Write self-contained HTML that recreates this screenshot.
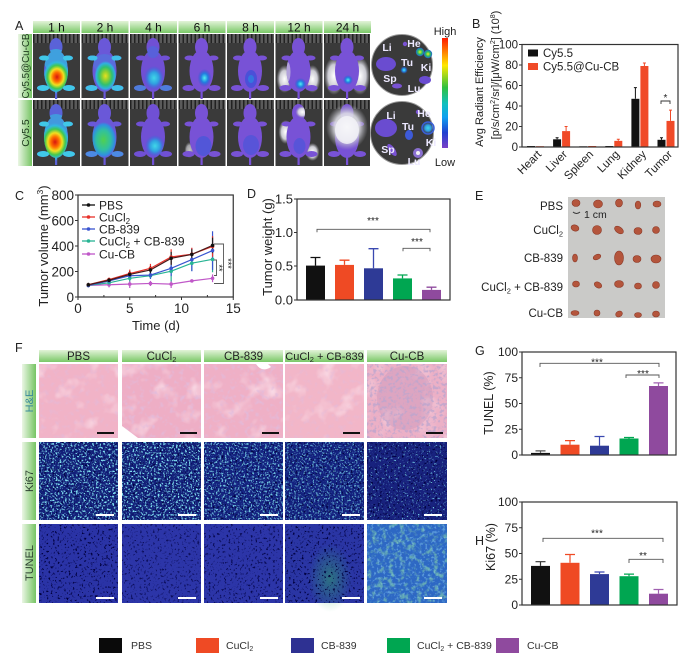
<!DOCTYPE html>
<html><head><meta charset="utf-8">
<style>
html,body{margin:0;padding:0;background:#fff;}
svg{display:block;font-family:"Liberation Sans",Arial,sans-serif;}
</style></head><body>
<svg width="700" height="669" viewBox="0 0 700 669" xmlns="http://www.w3.org/2000/svg">
<defs>
 <linearGradient id="hdr" x1="0" y1="0" x2="0" y2="1"><stop offset="0" stop-color="#e2f3d8"/><stop offset="1" stop-color="#7ac867"/></linearGradient>
 <linearGradient id="side" x1="0" y1="0" x2="1" y2="0"><stop offset="0" stop-color="#eaf6e4"/><stop offset="1" stop-color="#76c463"/></linearGradient>
 <linearGradient id="cbar" x1="0" y1="0" x2="0" y2="1">
  <stop offset="0" stop-color="#ff1a00"/><stop offset="0.1" stop-color="#ff6a00"/><stop offset="0.25" stop-color="#ffe800"/>
  <stop offset="0.45" stop-color="#30c040"/><stop offset="0.6" stop-color="#10c0c0"/><stop offset="0.72" stop-color="#10a0f0"/>
  <stop offset="0.86" stop-color="#2040d0"/><stop offset="1" stop-color="#7a40c8"/></linearGradient>
 <radialGradient id="hot"><stop offset="0" stop-color="#d81510"/><stop offset="0.28" stop-color="#ff7000"/><stop offset="0.48" stop-color="#f0e020"/><stop offset="0.68" stop-color="#40c850"/><stop offset="0.86" stop-color="#30b8e0"/><stop offset="1" stop-color="#30b8e0" stop-opacity="0"/></radialGradient>
 <radialGradient id="warm"><stop offset="0" stop-color="#e8e020"/><stop offset="0.3" stop-color="#90d030"/><stop offset="0.6" stop-color="#30c070"/><stop offset="0.85" stop-color="#30b0e0"/><stop offset="1" stop-color="#30b0e0" stop-opacity="0"/></radialGradient>
 <radialGradient id="grn"><stop offset="0" stop-color="#50d050"/><stop offset="0.55" stop-color="#30c0a0"/><stop offset="0.85" stop-color="#3090e0"/><stop offset="1" stop-color="#3090e0" stop-opacity="0"/></radialGradient>
 <radialGradient id="cool"><stop offset="0" stop-color="#40d8e8"/><stop offset="0.5" stop-color="#30a0e0"/><stop offset="1" stop-color="#3060e0" stop-opacity="0"/></radialGradient>
 <radialGradient id="spot"><stop offset="0" stop-color="#50f0f0"/><stop offset="0.5" stop-color="#2080e0"/><stop offset="1" stop-color="#3050d0" stop-opacity="0"/></radialGradient>
 <radialGradient id="wht"><stop offset="0" stop-color="#ffffff"/><stop offset="0.6" stop-color="#dcdce4" stop-opacity="0.9"/><stop offset="1" stop-color="#b0b0b8" stop-opacity="0"/></radialGradient>
 <radialGradient id="kig"><stop offset="0" stop-color="#f0f020"/><stop offset="0.5" stop-color="#30c060"/><stop offset="1" stop-color="#2060d0"/></radialGradient>
 <radialGradient id="gstreak"><stop offset="0" stop-color="#30b060" stop-opacity="0.5"/><stop offset="1" stop-color="#30b060" stop-opacity="0"/></radialGradient>
 <pattern id="comb" width="4" height="10" patternUnits="userSpaceOnUse"><rect width="4" height="10" fill="#5a5a5a"/><rect width="1.5" height="10" fill="#222"/></pattern>
 <path id="ms" d="M16.5 13a6.5 9 0 1 0 13 0a6.5 9 0 1 0 -13 0Z M11 37a12 21 0 1 0 24 0a12 21 0 1 0 -24 0Z M6 24a5 2.5 0 1 0 10 0a5 2.5 0 1 0 -10 0Z M30 24a5 2.5 0 1 0 10 0a5 2.5 0 1 0 -10 0Z M4 54a6 3 0 1 0 12 0a6 3 0 1 0 -12 0Z M30 54a6 3 0 1 0 12 0a6 3 0 1 0 -12 0Z M22 56v9h2.2v-9Z"/>
 <clipPath id="mc"><use href="#ms"/></clipPath>
 <filter id="fCy" x="0" y="0" width="1" height="1"><feTurbulence type="fractalNoise" baseFrequency="0.55" numOctaves="2" seed="3"/><feColorMatrix type="matrix" values="0 0 0 0 0.22 0 0 0 0 0.76 0 0 0 0 0.88 6 0 0 0 -3.2"/></filter>
 <filter id="fCyS" x="0" y="0" width="1" height="1"><feTurbulence type="fractalNoise" baseFrequency="0.55" numOctaves="2" seed="3"/><feColorMatrix type="matrix" values="0 0 0 0 0.2 0 0 0 0 0.7 0 0 0 0 0.85 7 0 0 0 -4.5"/></filter>
 <filter id="fDk" x="0" y="0" width="1" height="1"><feTurbulence type="fractalNoise" baseFrequency="0.45" numOctaves="2" seed="9"/><feColorMatrix type="matrix" values="0 0 0 0 0 0 0 0 0 0 0 0 0 0 0.05 -7 0 0 0 2.85"/></filter>
 <filter id="fDkS" x="0" y="0" width="1" height="1"><feTurbulence type="fractalNoise" baseFrequency="0.45" numOctaves="2" seed="5"/><feColorMatrix type="matrix" values="0 0 0 0 0.05 0 0 0 0 0.12 0 0 0 0 0.45 -7 0 0 0 2.5"/></filter>
 <filter id="fPk" x="0" y="0" width="1" height="1"><feTurbulence type="fractalNoise" baseFrequency="0.05" numOctaves="3" seed="2"/><feColorMatrix type="matrix" values="0 0 0 0 0.98 0 0 0 0 0.82 0 0 0 0 0.88 2 0 0 0 -1.05"/></filter>
 <filter id="fPu" x="0" y="0" width="1" height="1"><feTurbulence type="fractalNoise" baseFrequency="0.2" numOctaves="2" seed="7"/><feColorMatrix type="matrix" values="0 0 0 0 0.75 0 0 0 0 0.5 0 0 0 0 0.72 3 0 0 0 -1.6"/></filter>
 <filter id="fPuS" x="0" y="0" width="1" height="1"><feTurbulence type="fractalNoise" baseFrequency="0.3" numOctaves="2" seed="11"/><feColorMatrix type="matrix" values="0 0 0 0 0.5 0 0 0 0 0.38 0 0 0 0 0.62 5 0 0 0 -2.5"/></filter>
 <filter id="fGr" x="0" y="0" width="1" height="1"><feTurbulence type="fractalNoise" baseFrequency="0.18" numOctaves="3" seed="4"/><feColorMatrix type="matrix" values="0 0 0 0 0.25 0 0 0 0 0.68 0 0 0 0 0.42 4 0 0 0 -2.0"/></filter>
 <filter id="fLc" x="0" y="0" width="1" height="1"><feTurbulence type="fractalNoise" baseFrequency="0.35" numOctaves="2" seed="8"/><feColorMatrix type="matrix" values="0 0 0 0 0.3 0 0 0 0 0.7 0 0 0 0 0.95 5 0 0 0 -2.7"/></filter>
</defs>
<rect width="700" height="669" fill="#fff"/>

<!-- Panel letters -->
<g font-size="12.5" fill="#222">
<text x="15" y="30">A</text><text x="472" y="28">B</text><text x="15" y="200">C</text><text x="247" y="198">D</text>
<text x="475" y="200">E</text><text x="15" y="352">F</text><text x="475" y="355">G</text><text x="475" y="545">H</text>
</g>

<!-- ===== Panel A ===== -->
<g>
<rect x="33" y="21" width="47" height="12" fill="url(#hdr)"/><rect x="81.5" y="21" width="47" height="12" fill="url(#hdr)"/>
<rect x="130" y="21" width="47" height="12" fill="url(#hdr)"/><rect x="178.5" y="21" width="47" height="12" fill="url(#hdr)"/>
<rect x="227" y="21" width="47" height="12" fill="url(#hdr)"/><rect x="275.5" y="21" width="47" height="12" fill="url(#hdr)"/>
<rect x="324" y="21" width="47" height="12" fill="url(#hdr)"/>
</g>
<g font-size="12" text-anchor="middle" fill="#111">
<text x="56.5" y="31.5">1 h</text><text x="105" y="31.5">2 h</text><text x="153.5" y="31.5">4 h</text><text x="202" y="31.5">6 h</text>
<text x="250.5" y="31.5">8 h</text><text x="299" y="31.5">12 h</text><text x="347.5" y="31.5">24 h</text>
</g>
<rect x="18" y="34" width="14" height="64" fill="url(#side)"/>
<rect x="18" y="100" width="14" height="66" fill="url(#side)"/>
<text transform="translate(29,66) rotate(-90)" text-anchor="middle" font-size="9.8" fill="#1d3a1d">Cy5.5@Cu-CB</text>
<text transform="translate(29,133) rotate(-90)" text-anchor="middle" font-size="10.5" fill="#1d3a1d">Cy5.5</text>

<!-- row1 -->
<g transform="translate(33,34)"><rect width="47" height="64" fill="#3a3a3a"/><rect width="47" height="9" fill="url(#comb)"/>
<use href="#ms" fill="#5a62d8"/><g clip-path="url(#mc)"><ellipse cx="23" cy="27" rx="12" ry="12" fill="#38b0e0" opacity="0.8"/><ellipse cx="24" cy="43" rx="14" ry="17" fill="url(#hot)"/>
<ellipse cx="11" cy="24" rx="5" ry="3" fill="#40c8e8"/><ellipse cx="35" cy="24" rx="5" ry="3" fill="#40c8e8"/><ellipse cx="10" cy="54" rx="6" ry="3" fill="#40c8e8"/><ellipse cx="36" cy="54" rx="6" ry="3" fill="#40c8e8"/></g></g>
<g transform="translate(81.5,34)"><rect width="47" height="64" fill="#3a3a3a"/><rect width="47" height="9" fill="url(#comb)"/>
<use href="#ms" fill="#6a58d8"/><g clip-path="url(#mc)"><ellipse cx="23" cy="30" rx="11" ry="10" fill="#4a80e0" opacity="0.5"/><ellipse cx="24" cy="42" rx="11" ry="15" fill="url(#warm)"/>
<ellipse cx="11" cy="24" rx="5" ry="3" fill="#40c0e8"/><ellipse cx="35" cy="24" rx="5" ry="3" fill="#40c0e8"/><ellipse cx="10" cy="54" rx="6" ry="3" fill="#40c0e8"/><ellipse cx="36" cy="54" rx="6" ry="3" fill="#40c0e8"/></g></g>
<g transform="translate(130,34)"><rect width="47" height="64" fill="#3a3a3a"/><rect width="47" height="9" fill="url(#comb)"/>
<use href="#ms" fill="#7050d4"/><g clip-path="url(#mc)"><ellipse cx="23" cy="18" rx="6" ry="6" fill="#4070e0" opacity="0.5"/><ellipse cx="24" cy="44" rx="10" ry="12" fill="url(#cool)"/>
<ellipse cx="10" cy="54" rx="6" ry="3" fill="#4090e0" opacity="0.7"/><ellipse cx="36" cy="54" rx="6" ry="3" fill="#4090e0" opacity="0.7"/></g></g>
<g transform="translate(178.5,34)"><rect width="47" height="64" fill="#3a3a3a"/><rect width="47" height="9" fill="url(#comb)"/>
<use href="#ms" fill="#7852d6"/><g clip-path="url(#mc)"><ellipse cx="26" cy="44" rx="7" ry="9" fill="url(#spot)"/></g></g>
<g transform="translate(227,34)"><rect width="47" height="64" fill="#3a3a3a"/><rect width="47" height="9" fill="url(#comb)"/>
<use href="#ms" fill="#7852d6"/><g clip-path="url(#mc)"><ellipse cx="24" cy="45" rx="6" ry="9" fill="#4050d8" opacity="0.8"/><ellipse cx="24" cy="45" rx="3" ry="4" fill="#3080e0" opacity="0.8"/></g></g>
<g transform="translate(275.5,34)"><rect width="47" height="64" fill="#3a3a3a"/><rect width="47" height="9" fill="url(#comb)"/>
<ellipse cx="9" cy="45" rx="8" ry="14" fill="url(#wht)"/><ellipse cx="37" cy="45" rx="8" ry="14" fill="url(#wht)"/>
<use href="#ms" fill="#7852d6"/><g clip-path="url(#mc)"><ellipse cx="25" cy="50" rx="6" ry="6" fill="url(#spot)"/><ellipse cx="12" cy="38" rx="3" ry="10" fill="#d8d8e0" opacity="0.6"/></g></g>
<g transform="translate(324,34)"><rect width="46" height="64" fill="#3a3a3a"/><rect width="46" height="9" fill="url(#comb)"/>
<ellipse cx="10" cy="42" rx="10" ry="19" fill="url(#wht)"/><ellipse cx="36" cy="42" rx="10" ry="19" fill="url(#wht)"/>
<use href="#ms" fill="#7852d6"/><g clip-path="url(#mc)"><ellipse cx="24" cy="46" rx="5" ry="5" fill="url(#spot)"/></g></g>
<!-- row2 -->
<g transform="translate(33,100)"><rect width="47" height="66" fill="#3a3a3a"/><rect width="47" height="9" fill="url(#comb)"/>
<use href="#ms" fill="#5a62d8"/><g clip-path="url(#mc)"><ellipse cx="23" cy="26" rx="12" ry="12" fill="#38b0e0" opacity="0.7"/><ellipse cx="22" cy="42" rx="15" ry="19" fill="url(#hot)"/>
<ellipse cx="11" cy="24" rx="5" ry="3" fill="#40c8e8"/><ellipse cx="35" cy="24" rx="5" ry="3" fill="#40c8e8"/><ellipse cx="10" cy="54" rx="6" ry="3" fill="#40c8e8"/><ellipse cx="36" cy="54" rx="6" ry="3" fill="#40c8e8"/></g></g>
<g transform="translate(81.5,100)"><rect width="47" height="66" fill="#3a3a3a"/><rect width="47" height="9" fill="url(#comb)"/>
<use href="#ms" fill="#6a58d8"/><g clip-path="url(#mc)"><ellipse cx="22" cy="40" rx="13" ry="18" fill="url(#grn)"/>
<ellipse cx="10" cy="54" rx="6" ry="3" fill="#40a0e8" opacity="0.7"/><ellipse cx="36" cy="54" rx="6" ry="3" fill="#40a0e8" opacity="0.7"/></g></g>
<g transform="translate(130,100)"><rect width="47" height="66" fill="#3a3a3a"/><rect width="47" height="9" fill="url(#comb)"/>
<use href="#ms" fill="#7050d4"/><g clip-path="url(#mc)"><ellipse cx="25" cy="46" rx="10" ry="11" fill="url(#cool)"/></g></g>
<g transform="translate(178.5,100)"><rect width="47" height="66" fill="#3a3a3a"/><rect width="47" height="9" fill="url(#comb)"/>
<ellipse cx="11" cy="50" rx="5" ry="8" fill="url(#wht)" opacity="0.7"/>
<use href="#ms" fill="#7852d6"/><g clip-path="url(#mc)"><ellipse cx="25" cy="46" rx="8" ry="10" fill="#4858d8" opacity="0.8"/></g></g>
<g transform="translate(227,100)"><rect width="47" height="66" fill="#3a3a3a"/><rect width="47" height="9" fill="url(#comb)"/>
<use href="#ms" fill="#7852d6"/><g clip-path="url(#mc)"><ellipse cx="24" cy="45" rx="8" ry="10" fill="#4a55d8" opacity="0.7"/></g></g>
<g transform="translate(275.5,100)"><rect width="47" height="66" fill="#3a3a3a"/><rect width="47" height="9" fill="url(#comb)"/>
<ellipse cx="10" cy="32" rx="7" ry="12" fill="url(#wht)"/><ellipse cx="37" cy="52" rx="7" ry="9" fill="url(#wht)"/>
<use href="#ms" fill="#7852d6"/><g clip-path="url(#mc)"><ellipse cx="27" cy="12" rx="7" ry="6" fill="url(#wht)"/><ellipse cx="24" cy="46" rx="6" ry="8" fill="#4a55d8" opacity="0.7"/></g></g>
<g transform="translate(324,100)"><rect width="46" height="66" fill="#3a3a3a"/><rect width="46" height="9" fill="url(#comb)"/>
<use href="#ms" fill="#7852d6"/><ellipse cx="23" cy="27" rx="21" ry="23" fill="url(#wht)"/><ellipse cx="23" cy="30" rx="12" ry="14" fill="#f4f4f8" opacity="0.8"/></g>

<!-- ex vivo circles -->
<circle cx="402" cy="65" r="30.5" fill="#3a3a3a" stroke="#9a9a9a" stroke-width="1"/>
<ellipse cx="386" cy="64" rx="10" ry="7" fill="#6a4cd0"/>
<circle cx="405" cy="44" r="2.2" fill="#7a52d4"/>
<circle cx="420" cy="52" r="4.2" fill="url(#kig)"/><circle cx="428" cy="54" r="4.2" fill="url(#kig)"/>
<circle cx="404" cy="70" r="3.8" fill="url(#spot)"/>
<ellipse cx="397" cy="86" rx="5" ry="2.5" fill="#7a52d4"/>
<ellipse cx="425" cy="80" rx="6" ry="4" fill="#6a4cd0"/>
<circle cx="402" cy="133" r="31.5" fill="#3a3a3a" stroke="#9a9a9a" stroke-width="1"/>
<ellipse cx="386" cy="128" rx="11" ry="9" fill="#6a4cd0"/>
<circle cx="418" cy="112" r="2.2" fill="#7a52d4"/>
<circle cx="428" cy="128" r="6" fill="url(#cool)" stroke="#3a60d8" stroke-width="1.5"/>
<ellipse cx="409" cy="135" rx="4" ry="5" fill="#3d5ad8"/>
<ellipse cx="392" cy="150" rx="3" ry="7" fill="#7a52d4" transform="rotate(-35 392 150)"/>
<circle cx="418" cy="153" r="5" fill="#8a70d0"/><circle cx="418" cy="153" r="2" fill="#f0f0f0"/>
<g font-size="10.5" font-weight="bold" fill="#ece8ff" text-anchor="middle">
<text x="387" y="51">Li</text><text x="414" y="47">He</text><text x="407" y="66">Tu</text><text x="426" y="71">Ki</text><text x="390" y="82">Sp</text><text x="414" y="92">Lu</text>
<text x="391" y="119">Li</text><text x="424" y="117">He</text><text x="408" y="130">Tu</text><text x="431" y="146">Ki</text><text x="388" y="153">Sp</text><text x="414" y="165">Lu</text>
</g>
<rect x="442" y="38" width="6" height="110" fill="url(#cbar)"/>
<text x="445" y="35" text-anchor="middle" font-size="11" fill="#222">High</text>
<text x="445" y="166" text-anchor="middle" font-size="11" fill="#222">Low</text>

<!-- ===== Panel B ===== -->
<g fill="#222">
<text transform="translate(483,92) rotate(-90)" text-anchor="middle" font-size="11">Avg Radiant Efficiency</text>
<text transform="translate(499,75) rotate(-90)" text-anchor="middle" font-size="11">[p/s/cm<tspan font-size="7" dy="-4">2</tspan><tspan dy="4">/sr]/[μW/cm</tspan><tspan font-size="7" dy="-4">2</tspan><tspan dy="4">] (10</tspan><tspan font-size="7" dy="-4">8</tspan><tspan dy="4">)</tspan></text>
</g>
<g font-size="11.5" fill="#222" text-anchor="end">
<text x="518" y="151">0</text><text x="518" y="130.5">20</text><text x="518" y="110">40</text><text x="518" y="89.5">60</text><text x="518" y="69">80</text><text x="518" y="48.5">100</text>
</g>
<path d="M519 147h3M519 126.5h3M519 106h3M519 85.5h3M519 65h3M519 44.5h3" stroke="#333" stroke-width="1"/>
<g fill="#111">
<rect x="527" y="146" width="8" height="1"/><rect x="553.1" y="139.3" width="8" height="7.7"/><rect x="579.2" y="146.3" width="8" height="0.7"/>
<rect x="605.3" y="146" width="8" height="1"/><rect x="631.4" y="98.8" width="8" height="48.2"/><rect x="657.5" y="139.8" width="8" height="7.2"/>
</g>
<g fill="#f04a28">
<rect x="536" y="146.2" width="8" height="0.8"/><rect x="562.1" y="131.1" width="8" height="15.9"/><rect x="588.2" y="146" width="8" height="1"/>
<rect x="614.3" y="140.85" width="8" height="6.15"/><rect x="640.4" y="66" width="8" height="81"/><rect x="666.5" y="120.9" width="8" height="26.1"/>
</g>
<path d="M557.1 139.3V137.8M555.6 137.8h3M635.4 98.8V87.6M633.9 87.6h3M661.5 139.8V137.8M660 137.8h3" stroke="#111" stroke-width="1"/>
<path d="M566.1 131.1V126.5M564.6 126.5h3M618.3 140.85V139.3M616.8 139.3h3M644.4 66V63M642.9 63h3M670.5 120.9V110.1M669 110.1h3" stroke="#f04a28" stroke-width="1"/>
<rect x="522" y="44.5" width="156" height="102.5" fill="none" stroke="#333" stroke-width="1.2"/>
<rect x="528" y="49.5" width="10" height="7" fill="#111"/>
<rect x="528" y="63" width="10" height="7" fill="#f04a28"/>
<text x="543" y="57" font-size="11.5" fill="#222">Cy5.5</text>
<text x="543" y="70.5" font-size="11.5" fill="#222">Cy5.5@Cu-CB</text>
<path d="M661 104v-3h9v3" fill="none" stroke="#333" stroke-width="0.9"/>
<text x="665.5" y="101" text-anchor="middle" font-size="10" fill="#222">*</text>
<g font-size="11.5" fill="#222" text-anchor="end">
<text transform="translate(542,155) rotate(-45)">Heart</text>
<text transform="translate(568,155) rotate(-45)">Liver</text>
<text transform="translate(594,155) rotate(-45)">Spleen</text>
<text transform="translate(620,155) rotate(-45)">Lung</text>
<text transform="translate(647,155) rotate(-45)">Kidney</text>
<text transform="translate(673,155) rotate(-45)">Tumor</text>
</g>

<!-- ===== Panel C ===== -->
<text transform="translate(48,246) rotate(-90)" text-anchor="middle" font-size="13" fill="#222">Tumor volume (mm<tspan font-size="8.5" dy="-5">3</tspan><tspan dy="5">)</tspan></text>
<g font-size="13.5" fill="#222" text-anchor="end">
<text x="74" y="200">800</text><text x="74" y="225.5">600</text><text x="74" y="251">400</text><text x="74" y="276.5">200</text><text x="74" y="302">0</text>
</g>
<path d="M75 195h3M75 220.5h3M75 246h3M75 271.5h3M75 297h3M78 297v3M129.75 297v3M181.5 297v3M233.25 297v3M103.9 297v-2M155.6 297v-2M207.4 297v-2" stroke="#333" stroke-width="1"/>
<g font-size="13.5" fill="#222" text-anchor="middle">
<text x="78" y="313">0</text><text x="129.75" y="313">5</text><text x="181.5" y="313">10</text><text x="233.25" y="313">15</text>
</g>
<text x="156" y="330" text-anchor="middle" font-size="13" fill="#222">Time (d)</text>
<g transform="translate(0,-1)" fill="none" stroke-width="1.2">
<path d="M88.35 285.1V287.68M109.05 283.16V288.32M129.75 281.23V288.97M150.45 281.88V287.04M171.15 281.23V288.97M191.85 280.59V283.17M212.55 275.43V283.17" stroke="#c058c8"/>
<polyline points="88.35,286.39 109.05,285.74 129.75,285.1 150.45,284.46 171.15,285.1 191.85,281.88 212.55,279.3" stroke="#c058c8"/>
<path d="M88.35 285.1V287.68M109.05 281.87V285.75M129.75 276.07V282.53M150.45 274.14V279.3M171.15 261.88V282.52M191.85 256.46V271.94M212.55 247.43V273.23" stroke="#28b494"/>
<polyline points="88.35,286.39 109.05,283.81 129.75,279.3 150.45,276.72 171.15,272.2 191.85,264.2 212.55,260.33" stroke="#28b494"/>
<path d="M88.35 284.45V288.33M109.05 279.3V284.46M129.75 272.85V280.59M150.45 272.2V279.94M171.15 261.62V277.1M191.85 248.98V272.2M212.55 232.21V270.91" stroke="#3a55d0"/>
<polyline points="88.35,286.39 109.05,281.88 129.75,276.72 150.45,276.07 171.15,269.36 191.85,260.59 212.55,251.56" stroke="#3a55d0"/>
<path d="M88.35 284.45V287.03M109.05 278.65V282.53M129.75 270.65V278.39M150.45 264.84V273.88M171.15 250.27V265.75M191.85 248.72V261.62M212.55 237.11V257.75" stroke="#e8312a"/>
<polyline points="88.35,285.74 109.05,280.59 129.75,274.52 150.45,269.36 171.15,258.01 191.85,255.17 212.55,247.43" stroke="#e8312a"/>
<path d="M88.35 283.8V287.68M109.05 279.29V283.17M129.75 272.2V278.66M150.45 267.04V274.78M171.15 252.85V265.75M191.85 250.27V260.59M212.55 238.66V254.14" stroke="#222"/>
<polyline points="88.35,285.74 109.05,281.23 129.75,275.43 150.45,270.91 171.15,259.3 191.85,255.43 212.55,246.4" stroke="#4a1a1a"/>
</g>
<g transform="translate(0,-1)">
<g fill="#c058c8"><circle cx="88.35" cy="286.39" r="1.8"/><circle cx="109.05" cy="285.74" r="1.8"/><circle cx="129.75" cy="285.1" r="1.8"/><circle cx="150.45" cy="284.46" r="1.8"/><circle cx="171.15" cy="285.1" r="1.8"/><circle cx="191.85" cy="281.88" r="1.8"/><circle cx="212.55" cy="279.3" r="1.8"/></g>
<g fill="#28b494"><circle cx="88.35" cy="286.39" r="1.8"/><circle cx="109.05" cy="283.81" r="1.8"/><circle cx="129.75" cy="279.3" r="1.8"/><circle cx="150.45" cy="276.72" r="1.8"/><circle cx="171.15" cy="272.2" r="1.8"/><circle cx="191.85" cy="264.2" r="1.8"/><circle cx="212.55" cy="260.33" r="1.8"/></g>
<g fill="#3a55d0"><circle cx="88.35" cy="286.39" r="1.8"/><circle cx="109.05" cy="281.88" r="1.8"/><circle cx="129.75" cy="276.72" r="1.8"/><circle cx="150.45" cy="276.07" r="1.8"/><circle cx="171.15" cy="269.36" r="1.8"/><circle cx="191.85" cy="260.59" r="1.8"/><circle cx="212.55" cy="251.56" r="1.8"/></g>
<g fill="#e8312a"><circle cx="88.35" cy="285.74" r="1.8"/><circle cx="109.05" cy="280.59" r="1.8"/><circle cx="129.75" cy="274.52" r="1.8"/><circle cx="150.45" cy="269.36" r="1.8"/><circle cx="171.15" cy="258.01" r="1.8"/><circle cx="191.85" cy="255.17" r="1.8"/><circle cx="212.55" cy="247.43" r="1.8"/></g>
<g fill="#111"><circle cx="88.35" cy="285.74" r="1.8"/><circle cx="109.05" cy="281.23" r="1.8"/><circle cx="129.75" cy="275.43" r="1.8"/><circle cx="150.45" cy="270.91" r="1.8"/><circle cx="171.15" cy="259.3" r="1.8"/><circle cx="191.85" cy="255.43" r="1.8"/><circle cx="212.55" cy="246.4" r="1.8"/></g>
</g>
<rect x="78" y="195" width="155.25" height="102" fill="none" stroke="#333" stroke-width="1.2"/>
<g stroke-width="1.3">
<path d="M82 205h13" stroke="#111"/><circle cx="88.5" cy="205" r="1.8" fill="#111"/>
<path d="M82 217h13" stroke="#e8312a"/><circle cx="88.5" cy="217" r="1.8" fill="#e8312a"/>
<path d="M82 229h13" stroke="#3a55d0"/><circle cx="88.5" cy="229" r="1.8" fill="#3a55d0"/>
<path d="M82 241h13" stroke="#28b494"/><circle cx="88.5" cy="241" r="1.8" fill="#28b494"/>
<path d="M82 254h13" stroke="#c058c8"/><circle cx="88.5" cy="254" r="1.8" fill="#c058c8"/>
</g>
<g font-size="12" fill="#222">
<text x="99" y="209.3">PBS</text>
<text x="99" y="221.3">CuCl<tspan font-size="8" dy="2.5">2</tspan></text>
<text x="99" y="233.3">CB-839</text>
<text x="99" y="245.3">CuCl<tspan font-size="8" dy="2.5">2</tspan><tspan dy="-2.5"> + CB-839</tspan></text>
<text x="99" y="258.3">Cu-CB</text>
</g>
<path d="M214 260H216.5V275.5H214M214 244H223.5V283.5H214" fill="none" stroke="#555" stroke-width="0.9"/>
<text transform="translate(215.8,268) rotate(90)" text-anchor="middle" font-size="9" fill="#222">**</text>
<text transform="translate(224.8,263.5) rotate(90)" text-anchor="middle" font-size="9" fill="#222">***</text>

<!-- ===== Panel D ===== -->
<text transform="translate(272,247) rotate(-90)" text-anchor="middle" font-size="13" fill="#222">Tumor weight (g)</text>
<g font-size="13" fill="#222" text-anchor="end">
<text x="293" y="203.5">1.5</text><text x="293" y="237">1.0</text><text x="293" y="270.5">0.5</text><text x="293" y="304.5">0.0</text>
</g>
<path d="M294 199h3M294 232.5h3M294 266h3M294 300h3" stroke="#333"/>
<rect x="306" y="265.6" width="19" height="34.4" fill="#111"/>
<rect x="335" y="264.9" width="19" height="35.1" fill="#ef4a24"/>
<rect x="364" y="268.3" width="19" height="31.7" fill="#2e3a96"/>
<rect x="393" y="278.4" width="19" height="21.6" fill="#00a651"/>
<rect x="422" y="289.9" width="19" height="10.1" fill="#8f4a9e"/>
<path d="M315.5 265.6V257.5M310.5 257.5h10" stroke="#111" stroke-width="1.3"/>
<path d="M344.5 264.9V260.2M339.5 260.2h10" stroke="#ef4a24" stroke-width="1.3"/>
<path d="M373.5 268.3V248.7M368.5 248.7h10" stroke="#3a48b0" stroke-width="1.3"/>
<path d="M402.5 278.4V275M397.5 275h10" stroke="#00a651" stroke-width="1.3"/>
<path d="M431.5 289.9V287.2M426.5 287.2h10" stroke="#8f4a9e" stroke-width="1.3"/>
<rect x="297" y="199" width="153" height="101" fill="none" stroke="#333" stroke-width="1.2"/>
<path d="M317 232.3V229.3H430V232.3M403 251.3V248.3H430V251.3" fill="none" stroke="#555" stroke-width="0.9"/>
<text x="373" y="224" text-anchor="middle" font-size="10" fill="#222">***</text>
<text x="417" y="245" text-anchor="middle" font-size="10" fill="#222">***</text>

<!-- ===== Panel E ===== -->
<rect x="568" y="197" width="97" height="121" fill="#cacac8"/>
<g fill="#b4553c" stroke="#8c3a28" stroke-width="0.6">
<ellipse cx="576" cy="203" rx="4" ry="3.5"/><ellipse cx="598" cy="204" rx="4.5" ry="4"/><ellipse cx="619" cy="203" rx="3.5" ry="4"/><ellipse cx="638" cy="205" rx="2.8" ry="4"/><ellipse cx="657" cy="204" rx="4" ry="3"/>
<ellipse cx="575" cy="228" rx="4" ry="3" transform="rotate(20 575 228)"/><ellipse cx="597" cy="230" rx="4.5" ry="4.5"/><ellipse cx="619" cy="230" rx="5" ry="3" transform="rotate(35 619 230)"/><ellipse cx="638" cy="231" rx="4" ry="3.5"/><ellipse cx="656" cy="230" rx="3.5" ry="3.5"/>
<ellipse cx="575" cy="258" rx="2.5" ry="4"/><ellipse cx="597" cy="257" rx="4" ry="2.5" transform="rotate(-25 597 257)"/><ellipse cx="619" cy="258" rx="4.5" ry="7"/><ellipse cx="637" cy="259" rx="4" ry="3.5"/><ellipse cx="656" cy="259" rx="5" ry="4"/>
<ellipse cx="576" cy="284" rx="3.5" ry="3"/><ellipse cx="598" cy="285" rx="4" ry="2.8" transform="rotate(30 598 285)"/><ellipse cx="619" cy="284" rx="4.5" ry="3.5"/><ellipse cx="638" cy="286" rx="3.5" ry="3"/><ellipse cx="656" cy="285" rx="3.5" ry="3.5"/>
<ellipse cx="575" cy="313" rx="4" ry="2.5"/><ellipse cx="597" cy="313" rx="3" ry="3"/><ellipse cx="619" cy="314" rx="3.5" ry="2.8" transform="rotate(-30 619 314)"/><ellipse cx="638" cy="315" rx="3.5" ry="2.5"/><ellipse cx="656" cy="314" rx="3.5" ry="3"/>
</g>
<path d="M573 212q3.5 3 7 0" fill="none" stroke="#333" stroke-width="1"/>
<text x="584" y="218" font-size="10.5" fill="#222">1 cm</text>
<g font-size="11.5" fill="#222" text-anchor="end">
<text x="563" y="210">PBS</text>
<text x="563" y="234">CuCl<tspan font-size="7.5" dy="2.5">2</tspan></text>
<text x="563" y="262">CB-839</text>
<text x="563" y="291">CuCl<tspan font-size="7.5" dy="2.5">2</tspan><tspan dy="-2.5"> + CB-839</tspan></text>
<text x="563" y="317">Cu-CB</text>
</g>

<!-- ===== Panel F ===== -->
<rect x="39" y="350" width="79" height="12" fill="url(#hdr)"/><rect x="122" y="350" width="79" height="12" fill="url(#hdr)"/>
<rect x="204" y="350" width="79" height="12" fill="url(#hdr)"/><rect x="285" y="350" width="79" height="12" fill="url(#hdr)"/>
<rect x="367" y="350" width="80" height="12" fill="url(#hdr)"/>
<g font-size="11.5" fill="#222" text-anchor="middle">
<text x="78.5" y="360">PBS</text>
<text x="161.5" y="360">CuCl<tspan font-size="7.5" dy="2">2</tspan></text>
<text x="243.5" y="360">CB-839</text>
<text x="324.5" y="360" font-size="11">CuCl<tspan font-size="7.5" dy="2">2</tspan><tspan dy="-2"> + CB-839</tspan></text>
<text x="407" y="360">Cu-CB</text>
</g>
<rect x="22" y="364" width="14" height="74" fill="url(#side)"/>
<rect x="22" y="442" width="14" height="78" fill="url(#side)"/>
<rect x="22" y="524" width="14" height="79" fill="url(#side)"/>
<text transform="translate(33,401) rotate(-90)" text-anchor="middle" font-size="11" fill="#3a8a9a">H&amp;E</text>
<text transform="translate(33,481) rotate(-90)" text-anchor="middle" font-size="11" fill="#2c4030">Ki67</text>
<text transform="translate(33,563) rotate(-90)" text-anchor="middle" font-size="11" fill="#2c4030">TUNEL</text>

<!-- H&E row -->
<rect x="39" y="364" width="79" height="74" fill="#f1b3c7"/><rect x="39" y="364" width="79" height="74" filter="url(#fPk)"/><rect x="39" y="364" width="79" height="74" filter="url(#fPu)" opacity="0.6"/>
<rect x="122" y="364" width="79" height="74" fill="#eeaec5"/><rect x="122" y="364" width="79" height="74" filter="url(#fPk)"/><rect x="122" y="364" width="79" height="74" filter="url(#fPu)"/>
<path d="M122 426L138 438H122Z" fill="#fff"/>
<rect x="204" y="364" width="79" height="74" fill="#efb0c6"/><rect x="204" y="364" width="79" height="74" filter="url(#fPk)"/><rect x="204" y="364" width="79" height="74" filter="url(#fPu)"/>
<path d="M256 364q6 9 15 3L268 364Z" fill="#fff"/>
<rect x="285" y="364" width="79" height="74" fill="#f2b6c8"/><rect x="285" y="364" width="79" height="74" filter="url(#fPk)"/><rect x="285" y="364" width="79" height="74" filter="url(#fPu)" opacity="0.6"/>
<rect x="367" y="364" width="80" height="74" fill="#ecb0c6"/><rect x="367" y="364" width="80" height="74" filter="url(#fPk)" opacity="0.6"/>
<ellipse cx="405" cy="398" rx="28" ry="32" fill="#a880b0" opacity="0.22"/>
<rect x="367" y="364" width="80" height="74" filter="url(#fPuS)" opacity="0.8"/>
<g stroke="#111" stroke-width="2"><path d="M97 433h17M180 433h17M262 433h17M343 433h17M426 433h17"/></g>

<!-- Ki67 row -->
<rect x="39" y="442" width="79" height="78" fill="#13207a"/><rect x="39" y="442" width="79" height="78" filter="url(#fDk)"/><rect x="39" y="442" width="79" height="78" filter="url(#fCy)"/>
<rect x="122" y="442" width="79" height="78" fill="#13207a"/><rect x="122" y="442" width="79" height="78" filter="url(#fDk)"/><rect x="122" y="442" width="79" height="78" filter="url(#fCy)"/>
<rect x="204" y="442" width="79" height="78" fill="#142280"/><rect x="204" y="442" width="79" height="78" filter="url(#fDk)"/><rect x="204" y="442" width="79" height="78" filter="url(#fCy)" opacity="0.85"/>
<rect x="285" y="442" width="79" height="78" fill="#142280"/><rect x="285" y="442" width="79" height="78" filter="url(#fDk)"/><rect x="285" y="442" width="79" height="78" filter="url(#fCy)" opacity="0.7"/>
<rect x="367" y="442" width="80" height="78" fill="#18227e"/><rect x="367" y="442" width="80" height="78" filter="url(#fDk)"/><rect x="367" y="442" width="80" height="78" filter="url(#fCyS)"/>
<!-- TUNEL row -->
<rect x="39" y="524" width="79" height="79" fill="#2a33a6"/><rect x="39" y="524" width="79" height="79" filter="url(#fDk)"/>
<rect x="122" y="524" width="79" height="79" fill="#2c35a8"/><rect x="122" y="524" width="79" height="79" filter="url(#fDk)" opacity="0.7"/>
<rect x="204" y="524" width="79" height="79" fill="#2c35a8"/><rect x="204" y="524" width="79" height="79" filter="url(#fDk)" opacity="0.8"/>
<rect x="285" y="524" width="79" height="79" fill="#2a35a4"/><ellipse cx="330" cy="578" rx="22" ry="34" fill="url(#gstreak)"/><rect x="285" y="524" width="79" height="79" filter="url(#fDk)"/>
<rect x="367" y="524" width="80" height="79" fill="#2d68c4"/><rect x="367" y="524" width="80" height="79" filter="url(#fLc)" opacity="0.45"/><rect x="367" y="524" width="80" height="79" filter="url(#fGr)" opacity="0.6"/><rect x="367" y="524" width="80" height="79" filter="url(#fDkS)" opacity="0.6"/>
<g stroke="#fff" stroke-width="2"><path d="M96 515h18M178 515h18M260 515h18M342 515h18M424 515h18M96 598h18M178 598h18M260 598h18M342 598h18M424 598h18"/></g>

<!-- ===== Panel G ===== -->
<text transform="translate(493,403) rotate(-90)" text-anchor="middle" font-size="12.5" fill="#222">TUNEL  (%)</text>
<g font-size="12" fill="#222" text-anchor="end">
<text x="518" y="356">100</text><text x="518" y="382">75</text><text x="518" y="407.5">50</text><text x="518" y="433.5">25</text><text x="518" y="459">0</text>
</g>
<path d="M519 352h3M519 377.75h3M519 403.5h3M519 429.25h3M519 455h3" stroke="#333"/>
<rect x="531" y="452.9" width="19" height="2.1" fill="#111"/>
<rect x="560.5" y="444.7" width="19" height="10.3" fill="#ef4a24"/>
<rect x="590" y="445.7" width="19" height="9.3" fill="#2e3a96"/>
<rect x="619.5" y="438.5" width="19" height="16.5" fill="#00a651"/>
<rect x="649" y="386" width="19" height="69" fill="#8f4a9e"/>
<path d="M540.5 452.9V450.9M535.5 450.9h10" stroke="#555" stroke-width="1.2"/>
<path d="M570 444.7V440.6M565 440.6h10" stroke="#ef4a24" stroke-width="1.2"/>
<path d="M599.5 445.7V436.5M594.5 436.5h10" stroke="#3a48b0" stroke-width="1.2"/>
<path d="M629 438.5V437.5M624 437.5h10" stroke="#00a651" stroke-width="1.2"/>
<path d="M658.5 386V382.9M653.5 382.9h10" stroke="#a060b0" stroke-width="1.2"/>
<rect x="522" y="352" width="154" height="103" fill="none" stroke="#333" stroke-width="1.2"/>
<path d="M540 367V363.3H659V367M626 378V375H659V378" fill="none" stroke="#555" stroke-width="0.9"/>
<text x="597" y="365.5" text-anchor="middle" font-size="10" fill="#222">***</text>
<text x="643" y="377" text-anchor="middle" font-size="10" fill="#222">***</text>

<!-- ===== Panel H ===== -->
<text transform="translate(495,547) rotate(-90)" text-anchor="middle" font-size="12.5" fill="#222">Ki67  (%)</text>
<g font-size="12" fill="#222" text-anchor="end">
<text x="518" y="506">100</text><text x="518" y="532">75</text><text x="518" y="557.5">50</text><text x="518" y="583.5">25</text><text x="518" y="609">0</text>
</g>
<path d="M519 502h3M519 527.75h3M519 553.5h3M519 579.25h3M519 605h3" stroke="#333"/>
<rect x="531" y="565.9" width="19" height="39.1" fill="#111"/>
<rect x="560.5" y="562.8" width="19" height="42.2" fill="#ef4a24"/>
<rect x="590" y="574.1" width="19" height="30.9" fill="#2e3a96"/>
<rect x="619.5" y="576.2" width="19" height="28.8" fill="#00a651"/>
<rect x="649" y="593.7" width="19" height="11.3" fill="#8f4a9e"/>
<path d="M540.5 565.9V561.7M535.5 561.7h10" stroke="#333" stroke-width="1.2"/>
<path d="M570 562.8V554.5M565 554.5h10" stroke="#ef4a24" stroke-width="1.2"/>
<path d="M599.5 574.1V572M594.5 572h10" stroke="#3a48b0" stroke-width="1.2"/>
<path d="M629 576.2V574.1M624 574.1h10" stroke="#00a651" stroke-width="1.2"/>
<path d="M658.5 593.7V589.5M653.5 589.5h10" stroke="#a060b0" stroke-width="1.2"/>
<rect x="522" y="502" width="155" height="103" fill="none" stroke="#333" stroke-width="1.2"/>
<path d="M543 542V538.3H663V542M629 563V559.3H663V563" fill="none" stroke="#555" stroke-width="0.9"/>
<text x="597" y="536.5" text-anchor="middle" font-size="10" fill="#222">***</text>
<text x="643" y="559" text-anchor="middle" font-size="10" fill="#222">**</text>

<!-- ===== Bottom legend ===== -->
<rect x="99" y="638" width="23" height="15" fill="#0a0a0a"/>
<rect x="196" y="638" width="23" height="15" fill="#ef4a24"/>
<rect x="291" y="638" width="23" height="15" fill="#2e3192"/>
<rect x="387" y="638" width="23" height="15" fill="#00a651"/>
<rect x="496" y="638" width="23" height="15" fill="#8f4a9e"/>
<g font-size="10.5" fill="#333">
<text x="131" y="649">PBS</text>
<text x="226" y="649">CuCl<tspan font-size="7" dy="2">2</tspan></text>
<text x="321" y="649">CB-839</text>
<text x="417" y="649">CuCl<tspan font-size="7" dy="2">2</tspan><tspan dy="-2"> + CB-839</tspan></text>
<text x="527" y="649">Cu-CB</text>
</g>
</svg>
</body></html>
